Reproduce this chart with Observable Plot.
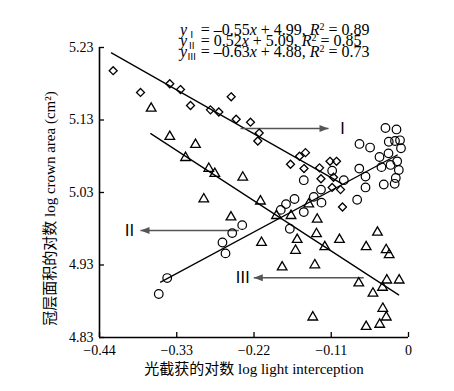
<!DOCTYPE html>
<html><head><meta charset="utf-8">
<script src="https://cdn.jsdelivr.net/npm/d3@7"></script>
<script src="https://cdn.jsdelivr.net/npm/@observablehq/plot@0.6"></script>
<style>body{margin:0;background:#fff;}</style>
</head><body><div id="chart"></div>
<script>
// ---- data ----
const groupNames = ["Ⅰ", "Ⅱ", "Ⅲ"];
const slopes = [-0.55, 0.52, -0.63];
const intercepts = [4.99, 5.09, 4.88];
const r2 = [0.89, 0.85, 0.73];
const fitRanges = [[-0.423, -0.095], [-0.353, -0.016], [-0.367, -0.014]];

// Group I (diamonds)
const diamondX = [-0.4205,-0.3816,-0.3399,-0.3247,-0.3104,-0.2820,-0.2701,-0.2525,-0.2454,-0.2250,-0.2126,-0.2146,-0.1552,-0.1467,-0.1680,-0.1488,-0.1267,-0.1118,-0.1025,-0.1246,-0.1087,-0.0968,-0.0940,-0.1068];
const diamondY = [5.198,5.168,5.180,5.172,5.150,5.144,5.141,5.162,5.131,5.127,5.112,5.101,5.080,5.085,5.069,5.063,5.064,5.073,5.073,5.049,5.037,5.034,5.010,5.051];
// Group II (circles)
const circleX = [-0.3556,-0.3436,-0.2606,-0.2649,-0.2510,-0.2368,-0.1819,-0.1744,-0.1623,-0.1690,-0.1491,-0.1491,-0.1349,-0.1246,-0.1239,-0.1087,-0.0921,-0.0731,-0.0612,-0.0612,-0.0701,-0.0698,-0.0547,-0.0328,-0.0171,-0.0281,-0.0192,-0.0121,-0.0107,-0.0285,-0.0413,-0.0161,-0.0256,-0.0385,-0.0138,-0.0181,-0.0352,-0.0197];
const circleY = [4.890,4.912,4.946,4.961,4.974,4.985,5.006,5.014,5.021,4.980,5.003,5.047,5.024,5.034,5.016,5.060,5.047,5.020,5.037,5.052,5.063,5.097,5.092,5.119,5.117,5.100,5.101,5.102,5.091,5.084,5.079,5.073,5.068,5.065,5.061,5.050,5.041,5.042];
// Group III (triangles)
const triX = [-0.3664,-0.3399,-0.3033,-0.3175,-0.2844,-0.2758,-0.2360,-0.2915,-0.2108,-0.2528,-0.1880,-0.1673,-0.2093,-0.1799,-0.1300,-0.1310,-0.1585,-0.1609,-0.1334,-0.1192,-0.0983,-0.0442,-0.0603,-0.0318,-0.0275,-0.0708,-0.0309,-0.0133,-0.0506,-0.0370,-0.0366,-0.0316,-0.0410,-0.0603,-0.1363,-0.1420];
const triY = [5.146,5.107,5.096,5.078,5.063,5.056,5.051,5.021,5.018,4.996,4.998,4.998,4.961,4.927,4.993,4.973,4.965,4.950,4.930,4.955,4.965,4.975,4.955,4.951,4.944,4.905,4.909,4.909,4.891,4.899,4.870,4.858,4.848,4.845,4.858,5.014];

// arrows pointing to the fitted lines
const arrowFromX = [-0.2392, -0.2417, -0.0637];
const arrowToX = [-0.1139, -0.3816, -0.2203];
const arrowY = [5.1183, 4.9776, 4.9124];

const xTicks = [-0.44, -0.33, -0.22, -0.11, 0];
const yTicks = [4.83, 4.93, 5.03, 5.13, 5.23];
const xLabel = "光截获的对数 log light interception";
const yLabel = "冠层面积的对数 log crown area (cm²)";

// ---- build tables ----
const zip = (xs, ys) => xs.map((x, i) => ({x, y: ys[i]}));
const groupI = zip(diamondX, diamondY);
const groupII = zip(circleX, circleY);
const groupIII = zip(triX, triY);
const fitLines = groupNames.flatMap((g, i) => fitRanges[i].map(x => ({g, x, y: slopes[i] * x + intercepts[i]})));
const arrows = groupNames.map((g, i) => ({label: g, x1: arrowFromX[i], x2: arrowToX[i], y: arrowY[i], dir: Math.sign(arrowToX[i] - arrowFromX[i])}));

const fmt = d => d === 0 ? "0" : (d < 0 ? "−" : "") + Math.abs(d).toFixed(2);
const serif = '"Liberation Serif","Times New Roman","Noto Sans CJK SC",serif';
const headRight = {draw(c) { c.moveTo(0, 0); c.lineTo(-9, -3.5); c.lineTo(-9, 3.5); c.closePath(); }};
const headLeft = {draw(c) { c.moveTo(0, 0); c.lineTo(9, -3.5); c.lineTo(9, 3.5); c.closePath(); }};
const arrowColor = "#555";

const plot = Plot.plot({
  width: 454, height: 391,
  marginLeft: 99, marginRight: 46, marginTop: 47, marginBottom: 54,
  style: {fontFamily: serif, fontSize: "14px", color: "#000", background: "#fff", overflow: "visible"},
  x: {domain: [-0.44, 0]},
  y: {domain: [4.83, 5.23]},
  marks: [
    Plot.axisX({ticks: xTicks, tickSize: -5, tickPadding: 13, tickFormat: fmt, label: null, strokeWidth: 1.3}),
    Plot.axisY({ticks: yTicks, tickSize: -5, tickPadding: 11, tickFormat: fmt, label: null, strokeWidth: 1.3}),
    Plot.ruleX([-0.44], {strokeWidth: 1.6}),
    Plot.ruleY([4.83], {strokeWidth: 1.6}),
    Plot.line(fitLines, {x: "x", y: "y", z: "g", stroke: "#000", strokeWidth: 1.3}),
    Plot.link(arrows, {x1: "x1", x2: "x2", y1: "y", y2: "y", stroke: arrowColor, strokeWidth: 1.6}),
    Plot.dot(arrows.filter(d => d.dir > 0), {x: "x2", y: "y", symbol: headRight, fill: arrowColor, stroke: "none"}),
    Plot.dot(arrows.filter(d => d.dir < 0), {x: "x2", y: "y", symbol: headLeft, fill: arrowColor, stroke: "none"}),
    Plot.text(arrows.filter(d => d.dir > 0), {x: "x2", y: "y", text: "label", textAnchor: "start", dx: 6, fontSize: 16}),
    Plot.text(arrows.filter(d => d.dir < 0), {x: "x2", y: "y", text: "label", textAnchor: "end", dx: -3, fontSize: 16}),
    Plot.dot(groupI, {x: "x", y: "y", symbol: "diamond2", r: 3.6, stroke: "#000", strokeWidth: 1.3, fill: "none"}),
    Plot.dot(groupII, {x: "x", y: "y", symbol: "circle", r: 4.3, stroke: "#000", strokeWidth: 1.2, fill: "none"}),
    Plot.dot(groupIII, {x: "x", y: "y", symbol: "triangle2", r: 4.6, stroke: "#000", strokeWidth: 1.3, fill: "none"}),
    Plot.text([xLabel], {text: d => d, frameAnchor: "bottom", dy: 36, fontSize: 15}),
    Plot.text([yLabel], {text: d => d, frameAnchor: "left", textAnchor: "middle", dx: -49, dy: 16, rotate: -90, fontSize: 15})
  ]
});

// regression equations (rich text with sub/superscripts)
const svg = d3.select(plot);
const eq = svg.append("g").attr("font-family", serif).style("font-size", "16px").attr("fill", "#000").attr("text-anchor", "start");
const coef = v => (v < 0 ? "–" : "") + Math.abs(v).toFixed(2);
groupNames.forEach((g, i) => {
  const t = eq.append("text").attr("x", 180).attr("y", 34.5 + i * 11);
  t.append("tspan").attr("font-style", "italic").text("y");
  t.append("tspan").style("font-size", "9.5px").attr("dy", 3).text(g);
  t.append("tspan").attr("dy", -3).text(` = ${coef(slopes[i])}`);
  t.append("tspan").attr("font-style", "italic").text("x");
  t.append("tspan").text(` + ${intercepts[i].toFixed(2)}, `);
  t.append("tspan").attr("font-style", "italic").text("R");
  t.append("tspan").style("font-size", "10px").attr("dy", -5).text("2");
  t.append("tspan").attr("dy", 5).text(` = ${r2[i].toFixed(2)}`);
});

document.getElementById("chart").append(plot);
</script>
</body></html>
